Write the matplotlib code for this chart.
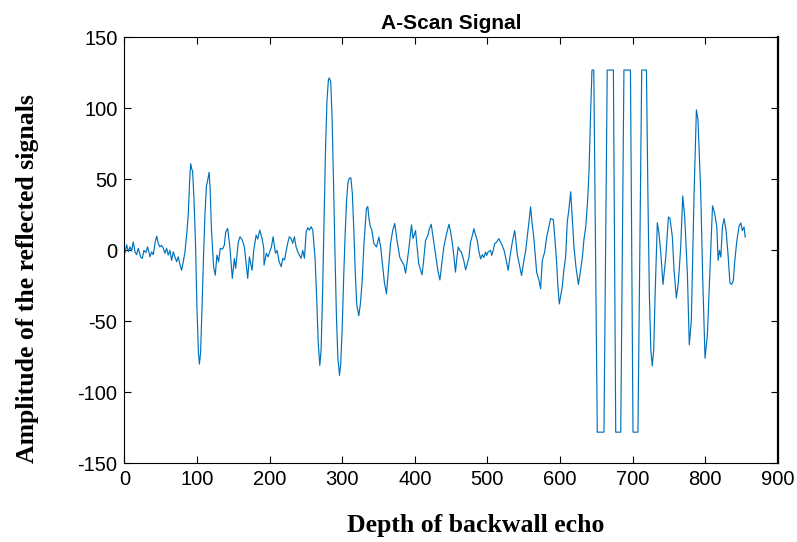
import numpy as np
import matplotlib
matplotlib.use("Agg")
import matplotlib.pyplot as plt

plt.rcParams["axes.unicode_minus"] = False

# sample depth / amplitude
depth = [
    0.8, 3.2, 5.5, 7.7, 10, 12.3, 14.6, 16.9, 19.2, 22.4, 24.7, 27, 29.7, 32.1, 35.3, 37.6, 39.9,
    42.2, 44.5, 46.8, 49, 51.4, 53.7, 55.9, 58.2, 60.5, 62.8, 65.1, 67.4, 69.7, 72, 74.2, 76.6,
    78.9, 81.2, 83.5, 85.8, 88, 90, 91.4, 93, 94, 96, 98, 100, 102, 103.4, 105, 107, 109, 111,
    113, 115, 116.7, 118, 120, 122.9, 125.2, 127.5, 129.8, 132.1, 135.3, 137.7, 139.6, 142.3,
    145.5, 148.7, 151.5, 153.3, 157, 159.3, 162.5, 165.3, 168.5, 169.9, 172.2, 174.5, 175.9,
    178.2, 181.5, 183.8, 186.5, 189.7, 192, 192.4, 195.6, 197.9, 200.3, 202.6, 204.9, 208.1,
    210.4, 213.2, 216, 218.3, 220.6, 223, 225.4, 227.3, 229.6, 231.9, 234.2, 236.5, 238.8,
    241.1, 243.4, 245.7, 248, 250.4, 252.6, 254.9, 257.2, 259.5, 262.7, 265, 267, 269.2, 271,
    273, 275, 277, 279, 281, 282, 284.2, 286, 288, 290, 292, 294, 296.3, 298, 300, 302, 304,
    306, 308, 310, 312, 314, 316, 318, 320, 322.9, 325, 327.5, 330, 333.4, 335.2, 337, 339,
    341, 343.5, 347.3, 350.5, 353, 356, 358, 361, 364, 366.6, 369.6, 372.4, 375.8, 379.4,
    382.7, 385, 387.3, 389.5, 391.8, 395.5, 397.5, 401, 403, 405.4, 408, 410, 412, 414.8, 418,
    420, 422.6, 425, 427.2, 430, 432, 434.6, 437, 440, 443, 447, 449, 451.5, 454, 456, 458,
    459.8, 462, 464, 467, 470, 472, 474.6, 476.8, 479, 481.4, 483, 486, 488, 490.6, 493, 495,
    497.5, 499, 501, 504.4, 506, 508, 510, 513, 515.7, 518, 520.3, 523, 525, 528.6, 531, 534,
    537.5, 539, 541, 544, 547, 550, 552.7, 555, 557.2, 559.5, 561, 564, 567.8, 571, 573.3,
    575.6, 578.8, 581.6, 584, 587, 590.7, 593, 595.3, 597, 599, 601, 603, 605, 607.7, 610, 612,
    614.7, 617, 619.2, 622, 625.3, 628, 630.8, 633, 635.4, 638, 640, 642, 644, 646.5, 651.3,
    660.5, 665, 673.5, 676.7, 683.6, 688, 697, 700.5, 707.3, 712.5, 719, 721, 723, 725, 727,
    729, 731, 734, 736, 738.7, 741.8, 745.6, 749.3, 751.5, 754.7, 757, 760.2, 763, 766.2, 769,
    771.7, 775.4, 778, 780.8, 784.6, 787.8, 790, 793.8, 796.5, 799.7, 803, 806.6, 810, 813,
    815.9, 817.7, 819.6, 821.5, 823.6, 826, 828.6, 831.3, 834, 836.4, 838.7, 840.5, 843.3,
    846.5, 849, 851, 853.4, 855,
]
amplitude = [
    -2, 4, -1, 2.5, -0.5, 6, -1, -3, 1.5, -4.5, -5.7, 0, -1.5, 2.5, -4.5, -1, -3,
    5, 10, 5, 2.5, 3.5, 1.5, -2, 1.5, -3.3, 0, -7, -1, -4.5, -8, -4.5, -10,
    -14, -8, -1, 11, 25, 50, 61, 57, 56, 35, 5, -40, -72, -80, -72, -40, -5, 25,
    45, 50, 55, 45, 15, -11.5, -17.5, -3.3, -8, 1.4, 1, 3.7, 13, 15.5,
    1.4, -19.7, -5.7, -12.7, 6, 9.6, 7.2, 2.5, -12.7, -19.7, -4.5, -10.4, -14,
    0, 10.8, 8, 14.3, 8.4, 1.4, -10.4, -2, -4.5, -1, 2.5, 9.6, -2,
    0, -8, -11.5, -5.6, -6.8, 0, 6, 9.6, 8.4, 5, 9.6, 2.5, -1,
    -3.3, -5.6, 0, -5.6, 13, 16, 14.3, 16.7, 14.3, -5.6, -35, -65, -81, -70,
    -30, 20, 70, 105, 120, 121.5, 119, 95, 50, 0, -45, -75, -88, -80, -55, -20, 10,
    35, 48, 51, 51, 40, 15, -15, -38, -46, -38, -22, 5, 29.5, 31, 22, 16.5,
    14, 5, 2.4, 9.4, 2.4, -12, -22, -30.7, -12, 5, 14, 19, 6, -5,
    -8.3, -10, -16, -8, 1.2, 18, 8.3, 14, 3, -9.4, -14, -17.2, -8, 7, 10.6,
    15, 18.4, 10, 2.4, -8, -15, -20.8, -10, 2.4, 10, 18.4, 14, 6, -5, -15.3, -5,
    2.4, 0, -1, -6, -13.7, -10, -4.7, 6, 10, 15.3, 12, 7, 0, -6, -3, -5,
    -1.2, -3.5, -1, 0, -3.5, 0, 4.7, 6, 8.3, 6, 3.5, 0, -4.7, -14, -4.7, 5,
    14, 8, -2.4, -10, -17.7, -8, 0, 10, 20, 30.7, 22, 8.3, -15.3, -21, -27,
    -7, -1.2, 9.4, 15, 22.4, 21.7, 8, -8.3, -25, -37.7, -32, -26, -15, -4.7, 20, 28,
    41.3, 22, 2.4, -12, -24, -15, -4.7, 8, 16.5, 35, 56.6, 95, 127, 127, -128,
    -128, 127, 127, -128, -128, 127, 127, -128, -128, 127, 127, 40, -30, -70, -81.4,
    -70, -30, 19.5, 13, -1.2, -24, -4.7, 23.6, 22.4, 9.4, -14, -33.5, -22.4, 2.4, 38.4,
    23.6, -16.5, -66.5, -49.5, 40, 99, 92, 40, -20, -76, -59, -11.8, 31.4, 26,
    16.5, -7, 0, -4.7, 16.5, 22.4, 14, -2.4, -23, -24, -21, -8.3, 5.9,
    17, 19.3, 14, 16.5, 9.4,
]

x_ticks = [0, 100, 200, 300, 400, 500, 600, 700, 800, 900]
y_ticks = [-150, -100, -50, 0, 50, 100, 150]

fig = plt.figure(figsize=(7.97, 5.42), dpi=100)
ax = fig.add_axes([0.156, 0.145, 0.820, 0.786])

ax.plot(depth, amplitude, color="#0072BD", linewidth=0.85)

ax.set_xlim(0, 900)
ax.set_ylim(-150, 150)
ax.set_xticks(x_ticks)
ax.set_yticks(y_ticks)
ax.tick_params(direction="in", length=5, width=0.8, top=True, right=True,
               labelsize=14.5, pad=5)
for lbl in ax.get_xticklabels() + ax.get_yticklabels():
    lbl.set_family("Liberation Sans")
for sp in ax.spines.values():
    sp.set_linewidth(0.8)
ax.spines["right"].set_linewidth(1.6)

ax.set_title("A-Scan Signal", fontsize=15, fontweight="bold",
             family="Liberation Sans", pad=6)

ax.set_xlabel("Depth of backwall echo", fontsize=18.5, fontweight="bold",
              family="Liberation Serif")
ax.xaxis.set_label_coords(0.537, -0.145)
ax.xaxis.label.set_verticalalignment("center")

ax.set_ylabel("Amplitude of the reflected signals", fontsize=18.5, fontweight="bold",
              family="Liberation Serif")
ax.yaxis.set_label_coords(-0.1475, 0.435)
ax.yaxis.label.set_verticalalignment("center")

fig.savefig("out.png", dpi=100)
